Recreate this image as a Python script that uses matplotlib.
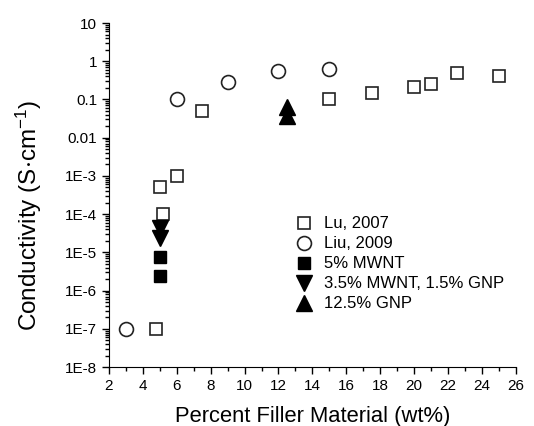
import matplotlib

matplotlib.use("Agg")
import matplotlib.pyplot as plt
from matplotlib.ticker import FixedLocator, LogLocator, MultipleLocator, NullFormatter

plt.rcParams["font.family"] = ["Liberation Sans", "DejaVu Sans"]
plt.rcParams["mathtext.fontset"] = "custom"
plt.rcParams["mathtext.rm"] = "Liberation Sans"
plt.rcParams["mathtext.default"] = "regular"

# data
lu_x = [4.8, 5.0, 5.2, 6.0, 7.5, 15.0, 17.5, 20.0, 21.0, 22.5, 25.0]
lu_y = [1e-7, 5e-4, 1e-4, 1e-3, 0.05, 0.1, 0.15, 0.21, 0.26, 0.5, 0.42]
liu_x = [3.0, 6.0, 9.0, 12.0, 15.0]
liu_y = [1e-7, 0.1, 0.29, 0.57, 0.62]
mwnt_x = [5.0, 5.0]
mwnt_y = [7.5e-6, 2.4e-6]
hybrid_x = [5.0, 5.0]
hybrid_y = [4.3e-5, 2.4e-5]
gnp_x = [12.5, 12.5]
gnp_y = [0.065, 0.036]

y_ticks = [1e-8, 1e-7, 1e-6, 1e-5, 1e-4, 1e-3, 0.01, 0.1, 1, 10]
y_labels = ["1E-8", "1E-7", "1E-6", "1E-5", "1E-4", "1E-3", "0.01", "0.1", "1", "10"]

fig = plt.figure(figsize=(5.34, 4.26), dpi=100)
ax = fig.add_axes([0.204, 0.138, 0.762, 0.808])

ms = 9
ax.plot(lu_x, lu_y, "s", ms=ms, mfc="white", mec="#222222", mew=1.2, ls="none", label="Lu, 2007")
ax.plot(liu_x, liu_y, "o", ms=ms + 1, mfc="white", mec="#222222", mew=1.2, ls="none", label="Liu, 2009")
ax.plot(mwnt_x, mwnt_y, "s", ms=ms, color="black", ls="none", label="5% MWNT")
ax.plot(hybrid_x, hybrid_y, "v", ms=ms + 2, color="black", ls="none", label="3.5% MWNT, 1.5% GNP")
ax.plot(gnp_x, gnp_y, "^", ms=ms + 2, color="black", ls="none", label="12.5% GNP")

ax.set_yscale("log")
ax.set_xlim(2, 26)
ax.set_ylim(1e-8, 10)
ax.xaxis.set_major_locator(MultipleLocator(2))
ax.xaxis.set_minor_locator(MultipleLocator(1))
ax.yaxis.set_major_locator(FixedLocator(y_ticks))
ax.set_yticklabels(y_labels)
ax.yaxis.set_minor_locator(LogLocator(base=10, subs=range(2, 10), numticks=20))
ax.yaxis.set_minor_formatter(NullFormatter())

for s in ["top", "right"]:
    ax.spines[s].set_visible(False)
ax.tick_params(which="major", direction="out", length=5, width=1, labelsize=11)
ax.tick_params(which="minor", direction="out", length=3, width=1)

ax.set_xlabel("Percent Filler Material (wt%)", fontsize=15.8, labelpad=9)
ax.set_ylabel("Conductivity (S$\\cdot$cm$^{-1}$)", fontsize=17.5)
ax.yaxis.set_label_coords(-0.16, 0.44)

ax.legend(loc="center left", bbox_to_anchor=(0.435, 0.30), frameon=False,
          fontsize=12, handletextpad=0.6, labelspacing=0.3, borderpad=0, handlelength=1.2)

fig.savefig("out.png", dpi=100)
